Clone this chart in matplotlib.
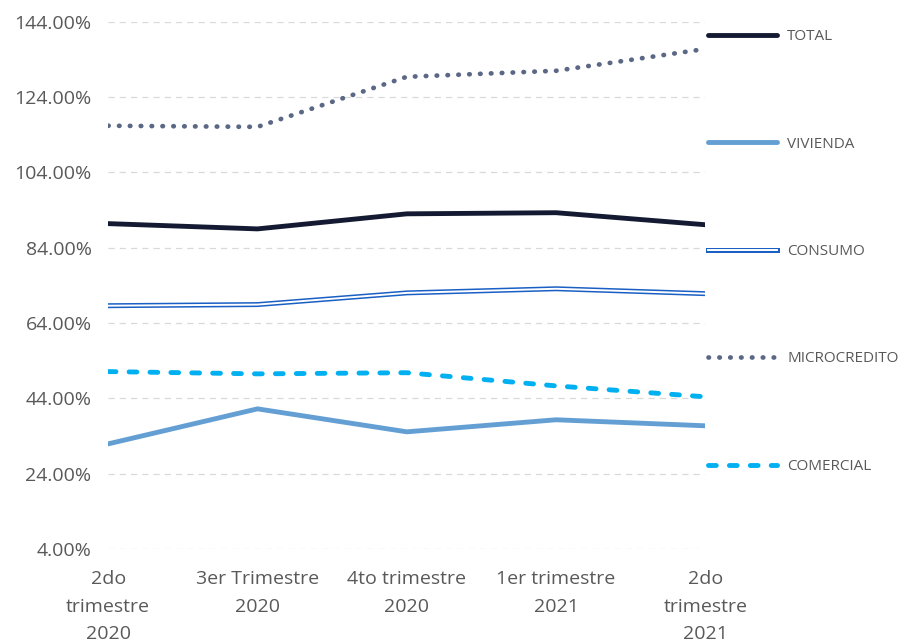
import matplotlib
matplotlib.use("Agg")
import matplotlib.pyplot as plt
from matplotlib.legend_handler import HandlerTuple
from matplotlib.ticker import FuncFormatter

categories = ["2do\ntrimestre\n2020", "3er Trimestre\n2020", "4to trimestre\n2020",
              "1er trimestre\n2021", "2do\ntrimestre\n2021"]
total = [90.4, 89.0, 93.0, 93.3, 90.1]
vivienda = [31.9, 41.2, 35.1, 38.3, 36.7]
consumo = [68.6, 68.9, 72.0, 73.1, 71.8]
microcredito = [116.4, 116.1, 129.4, 131.0, 136.8]
comercial = [51.1, 50.5, 50.8, 47.3, 44.4]
yticks = [4, 24, 44, 64, 84, 104, 124, 144]

plt.rcParams['font.family'] = ['Open Sans', 'DejaVu Sans']
fig = plt.figure(figsize=(9.09, 6.42), dpi=100)
ax = fig.add_axes([0.119, 0.145, 0.657, 0.821])
x = list(range(len(categories)))

h_total, = ax.plot(x, total, color="#151a33", lw=3.5, solid_capstyle="round", zorder=3)
h_viv, = ax.plot(x, vivienda, color="#649fd4", lw=3.5, solid_capstyle="round", zorder=3)
h_con1, = ax.plot(x, consumo, color="#1a5fc4", lw=3.6, zorder=3)
h_con2, = ax.plot(x, consumo, color="white", lw=1.4, zorder=4)
h_mic, = ax.plot(x, microcredito, color="#5a6785", lw=3.4, linestyle=(0, (0.1, 2.2)),
                 dash_capstyle="round", zorder=3)
h_com, = ax.plot(x, comercial, color="#00b0f0", lw=3.5, linestyle=(0, (1.6, 2.7)),
                 dash_capstyle="round", zorder=3)

ax.set_xlim(0, 4)
ax.set_ylim(4, 144)
ax.set_yticks(yticks)
ax.yaxis.set_major_formatter(FuncFormatter(lambda v, p: f"{v:.2f}%"))
ax.set_xticks(x)
ax.set_xticklabels(categories, linespacing=1.65)
for s in ax.spines.values():
    s.set_visible(False)
ax.tick_params(axis="both", length=0, labelsize=14, colors="#595959")
ax.tick_params(axis="y", pad=12)
ax.tick_params(axis="x", pad=15.5)
ax.grid(axis="y", color="#d9d9d9", lw=0.9, linestyle=(0, (5, 4)))
ax.set_axisbelow(True)

handles = [h_total, h_viv, (h_con1, h_con2), h_mic, h_com]
labels = ["TOTAL", "VIVIENDA", "CONSUMO", "MICROCREDITO", "COMERCIAL"]
leg = fig.legend(handles, labels, loc="upper left", bbox_to_anchor=(0.7635, 0.976),
                 frameon=False, fontsize=11, labelcolor="#595959",
                 handlelength=4.5, handletextpad=0.7, labelspacing=6.05,
                 handler_map={tuple: HandlerTuple(ndivide=1)})

fig.savefig("out.png", dpi=100)
